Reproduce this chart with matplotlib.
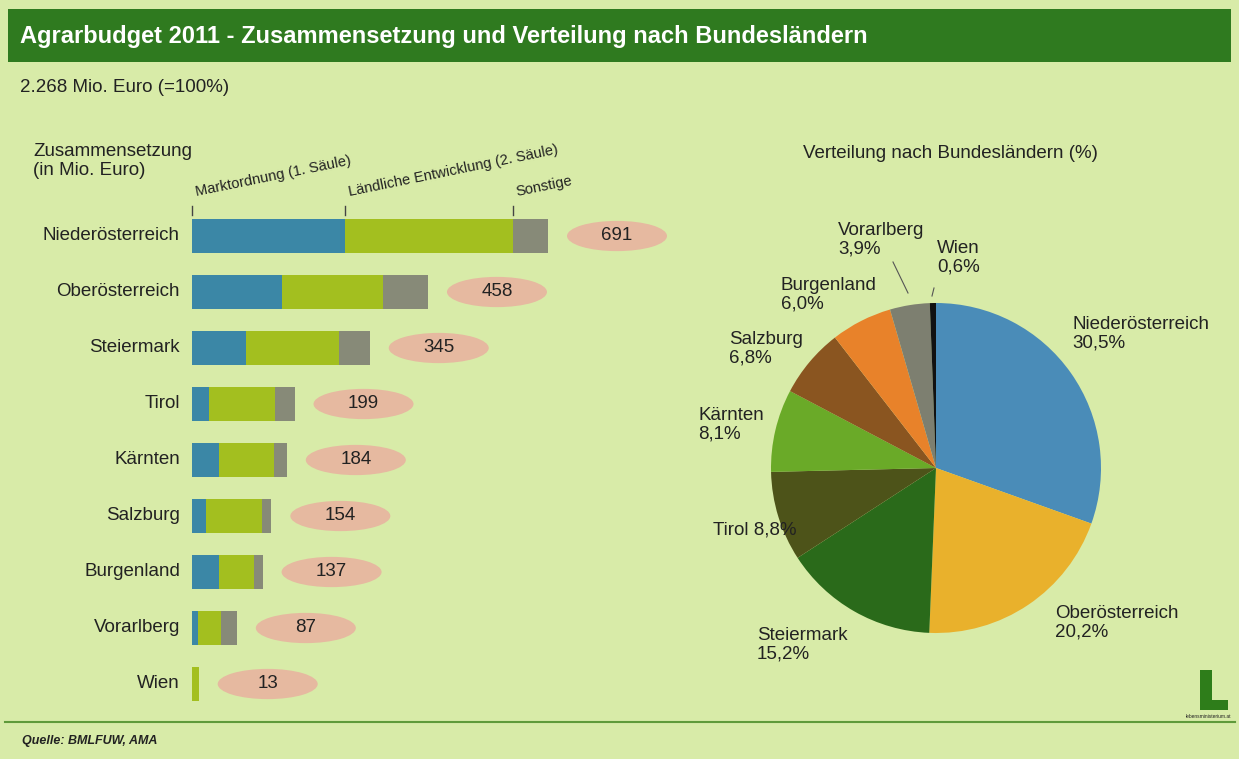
import matplotlib
matplotlib.use("Agg")
import matplotlib.pyplot as plt
from matplotlib.patches import Rectangle, Ellipse
import numpy as np

plt.rcParams['font.family'] = ['Liberation Sans', 'DejaVu Sans']

# ---------------- data ----------------
states = ["Niederösterreich", "Oberösterreich", "Steiermark", "Tirol", "Kärnten",
          "Salzburg", "Burgenland", "Vorarlberg", "Wien"]
marktordnung = [297, 175, 104, 33, 53, 27, 53, 12, 0]
laendliche = [326, 196, 181, 128, 107, 108, 67, 45, 13]
sonstige = [68, 87, 60, 38, 24, 19, 17, 30, 0]
totals = [691, 458, 345, 199, 184, 154, 137, 87, 13]

pie_labels = ["Niederösterreich\n30,5%", "Oberösterreich\n20,2%", "Steiermark\n15,2%",
              "Tirol 8,8%", "Kärnten\n8,1%", "Salzburg\n6,8%", "Burgenland\n6,0%",
              "Vorarlberg\n3,9%", "Wien\n0,6%"]
pie_shares = [30.5, 20.2, 15.2, 8.8, 8.1, 6.8, 6.0, 3.9, 0.6]

series_names = ["Marktordnung (1. Säule)", "Ländliche Entwicklung (2. Säule)", "Sonstige"]

# ---------------- styles ----------------
W, H = 1239, 759
BG = "#d8eba8"
TITLE_GREEN = "#2f7a1f"
C_BLUE = "#3b87a6"
C_LIME = "#a3bf1f"
C_GREY = "#878a78"
C_ELL = "#e6b9a0"
TEXT = "#222222"
FS = 13.5
pie_colors = ["#4a8cb8", "#e9b12c", "#2a6a1a", "#4d5319", "#6aaa28",
              "#8a5520", "#e8822a", "#7d7f70", "#111111"]

fig = plt.figure(figsize=(W / 100, H / 100), dpi=100)
fig.patch.set_facecolor(BG)


def px_axes(x0, y0, x1, y1, **kw):
    """axes placed by pixel box (top-left origin)."""
    return fig.add_axes([x0 / W, 1 - y1 / H, (x1 - x0) / W, (y1 - y0) / H], **kw)


# decoration layer
deco = fig.add_axes([0, 0, 1, 1], zorder=0)
deco.set_xlim(0, W)
deco.set_ylim(H, 0)
deco.axis("off")
deco.add_patch(Rectangle((8, 9), 1223, 53, color=TITLE_GREEN, lw=0))
deco.text(20, 37, "Agrarbudget 2011 - Zusammensetzung und Verteilung nach Bundesländern",
          color="white", fontsize=17, fontweight="bold", va="center", ha="left")
deco.text(20, 88, "2.268 Mio. Euro (=100%)", fontsize=FS, color=TEXT, va="center")
deco.text(33, 161, "Zusammensetzung\n(in Mio. Euro)", fontsize=FS, color=TEXT,
          va="center", linespacing=1.15)
deco.text(803, 153, "Verteilung nach Bundesländern (%)", fontsize=FS, color=TEXT, va="center")
deco.plot([5, 1235], [722, 722], color="#5f9a3a", lw=1.5)
deco.text(22, 741, "Quelle: BMLFUW, AMA", fontsize=9, color=TEXT, style="italic",
          fontweight="bold", va="center")
# logo
deco.add_patch(Rectangle((1200, 670), 12, 40, color="#2e7d1a", lw=0))
deco.add_patch(Rectangle((1200, 700), 28, 10, color="#2e7d1a", lw=0))
deco.text(1186, 717, "lebensministerium.at", fontsize=3.5, color=TEXT, va="center")

# ---------------- bar chart ----------------
px_per_unit = 356 / 691
x_left, x_right = 192, 700
y_top = 208
row_h = 56
n = len(states)
axb = px_axes(x_left, y_top, x_right, y_top + row_h * n, zorder=2)
axb.set_xlim(0, (x_right - x_left) / px_per_unit)
axb.set_ylim(n - 0.5, -0.5)
axb.axis("off")
y = np.arange(n)
m = np.array(marktordnung)
l = np.array(laendliche)
s = np.array(sonstige)
axb.barh(y, m, height=0.6, color=C_BLUE, lw=0)
axb.barh(y, l, left=m, height=0.6, color=C_LIME, lw=0)
axb.barh(y, s, left=m + l, height=0.6, color=C_GREY, lw=0)
ell_off = 69 / px_per_unit
ell_w = 100 / px_per_unit
for i, t in enumerate(totals):
    end = m[i] + l[i] + s[i]
    axb.add_patch(Ellipse((end + ell_off, i), ell_w, 0.54, color=C_ELL, lw=0))
    axb.text(end + ell_off, i, str(t), ha="center", va="center", fontsize=FS, color=TEXT)
    axb.text(-12 / px_per_unit, i, states[i], ha="right", va="center", fontsize=FS, color=TEXT)

# column headers with ticks, anchored at segment starts of first row
starts = [0, m[0], m[0] + l[0]]
for name, xs in zip(series_names, starts):
    axb.annotate(name, xy=(xs, -0.5), xycoords="data", xytext=(4, 12),
                 textcoords="offset pixels", rotation=11.5, rotation_mode="anchor",
                 ha="left", va="baseline", fontsize=10.5, color=TEXT, annotation_clip=False)
    axb.plot([xs, xs], [-0.54, -0.38], color="#444444", lw=1, clip_on=False)

# ---------------- pie chart ----------------
cx, cy, r = 936, 468, 165
half = 260
axp = px_axes(cx - half, cy - half, cx + half, cy + half, zorder=2)
axp.pie(pie_shares, colors=pie_colors, startangle=90, counterclock=False, radius=1,
        wedgeprops=dict(linewidth=0))
axp.set_xlim(-half / r, half / r)
axp.set_ylim(-half / r, half / r)
axp.set_aspect("equal")
axp.axis("off")


def P(px, py):
    return ((px - cx) / r, (cy - py) / r)


label_pos = [(1072, 334, "left"), (1055, 623, "left"), (757, 645, "left"),
             (713, 530, "left"), (698, 425, "left"), (729, 349, "left"),
             (781, 295, "left"), (838, 240, "left"), (937, 258, "left")]
for lab, (px, py, ha) in zip(pie_labels, label_pos):
    x_, y_ = P(px, py)
    axp.text(x_, y_, lab, ha=ha, va="center", fontsize=FS, color=TEXT, linespacing=1.15,
             clip_on=False)
# leader lines
axp.plot(*zip(P(893, 262), P(908, 293)), color="#555555", lw=0.8, clip_on=False)
axp.plot(*zip(P(934, 288), P(932, 296)), color="#555555", lw=0.8, clip_on=False)

fig.savefig("out.png", dpi=100, facecolor=BG)
